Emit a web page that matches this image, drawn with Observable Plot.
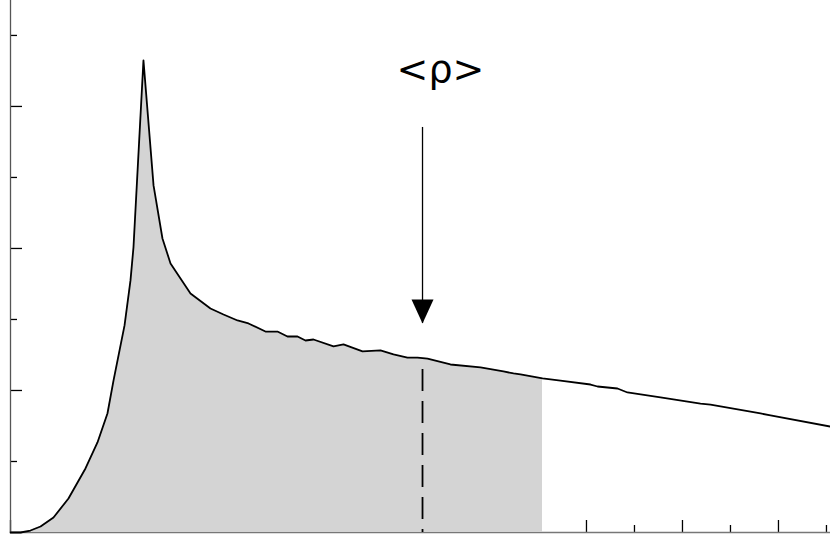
<!DOCTYPE html>
<html>
<head>
<meta charset="utf-8">
<script src="https://cdn.jsdelivr.net/npm/d3@7"></script>
<script src="https://cdn.jsdelivr.net/npm/@observablehq/plot@0.6"></script>
<style>
  html, body { margin: 0; padding: 0; background: #fff; }
  #chart svg { display: block; }
</style>
</head>
<body>
<div id="chart"></div>
<script>
// ---- data ----
const xs = [0, 0.104, 0.208, 0.313, 0.448, 0.604, 0.781, 0.906, 1.010, 1.073, 1.188, 1.250, 1.281, 1.385,
  1.490, 1.583, 1.667, 1.771, 1.875, 2.083, 2.219, 2.365, 2.479, 2.656, 2.781, 2.885, 2.990, 3.073, 3.156,
  3.365, 3.469, 3.667, 3.854, 3.990, 4.135, 4.240, 4.344, 4.583, 4.896, 5.135, 5.240, 5.313, 5.542, 5.729,
  6.042, 6.115, 6.323, 6.427, 6.771, 7.188, 7.292, 7.813, 7.917, 8.542];
const ys = [0, 0, 0.014, 0.042, 0.106, 0.239, 0.451, 0.634, 0.838, 1.070, 1.458, 1.775, 2.007, 3.324,
  2.444, 2.070, 1.894, 1.789, 1.683, 1.577, 1.535, 1.493, 1.472, 1.415, 1.415, 1.380, 1.380, 1.352, 1.359,
  1.310, 1.324, 1.275, 1.282, 1.254, 1.232, 1.232, 1.225, 1.183, 1.162, 1.134, 1.120, 1.113, 1.085, 1.070,
  1.042, 1.028, 1.014, 0.986, 0.951, 0.908, 0.901, 0.838, 0.824, 0.746];

const meanRho = 4.292;       // position of <ρ>
const fillEnd = 5.542;       // shaded region ends here
const dashTop = 1.148;       // top of dashed marker
const arrowTop = 2.852;
const arrowTip = 1.472;
const labelX = 4.479;
const labelY = 3.261;
const labelText = "<ρ>";

const xDomain = [0, 8.542];
const yDomain = [0, 3.746];
const xMajor = [0, 1, 2, 3, 4, 5, 6, 7, 8];
const xMinor = [0.5, 1.5, 2.5, 3.5, 4.5, 5.5, 6.5, 7.5, 8.5];
const yMajor = [0, 1, 2, 3];
const yMinor = [0.5, 1.5, 2.5, 3.5];

const curve = xs.map((x, i) => ({x, y: ys[i]}));

const arrowHead = {
  draw(ctx) {
    ctx.moveTo(0, 0);
    ctx.lineTo(-11, -24);
    ctx.lineTo(11, -24);
    ctx.closePath();
  }
};

const noText = () => "";

const chart = Plot.plot({
  width: 830,
  height: 545,
  marginLeft: 10,
  marginRight: 0,
  marginTop: 0,
  marginBottom: 13,
  style: {background: "#fff"},
  x: {domain: xDomain},
  y: {domain: yDomain},
  marks: [
    Plot.axisX(xMajor, {tickSize: -12, tickFormat: noText, label: null, stroke: "#000", strokeWidth: 1.3}),
    Plot.axisX(xMinor, {tickSize: -7, tickFormat: noText, label: null, stroke: "#000", strokeWidth: 1.3}),
    Plot.axisY(yMajor, {tickSize: -12, tickFormat: noText, label: null, stroke: "#000", strokeWidth: 1.3}),
    Plot.axisY(yMinor, {tickSize: -7, tickFormat: noText, label: null, stroke: "#000", strokeWidth: 1.3}),
    Plot.ruleY([0], {stroke: "#777", strokeWidth: 1.5}),
    Plot.ruleX([0], {stroke: "#555", strokeWidth: 1.3}),
    Plot.areaY(curve.filter(d => d.x <= fillEnd), {x: "x", y: "y", fill: "#d4d4d4"}),
    Plot.line(curve, {x: "x", y: "y", stroke: "#000", strokeWidth: 1.8}),
    Plot.ruleX([meanRho], {y1: dashTop, y2: 0, stroke: "#000", strokeWidth: 1.8, strokeDasharray: "22,10"}),
    Plot.ruleX([meanRho], {y1: arrowTop, y2: arrowTip, stroke: "#000", strokeWidth: 1.3}),
    Plot.dot([meanRho], {x: d => d, y: () => arrowTip, symbol: arrowHead, fill: "#000", stroke: "none"}),
    Plot.text([labelText], {x: () => labelX, y: () => labelY, text: d => d, fontSize: 38,
      fontFamily: "DejaVu Sans", fill: "#000", textAnchor: "middle", style: "letter-spacing:-2px"})
  ]
});

document.getElementById("chart").appendChild(chart);
</script>
</body>
</html>
